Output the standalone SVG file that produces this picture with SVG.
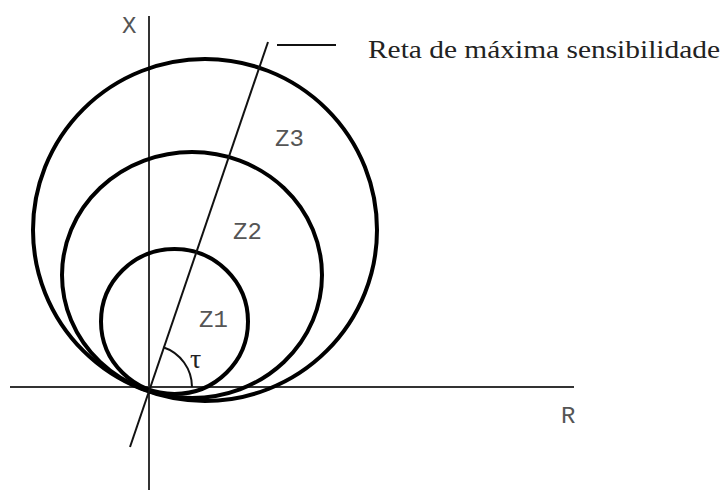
<svg xmlns="http://www.w3.org/2000/svg" width="725" height="490" viewBox="0 0 725 490">
<style>
.axis{stroke:#333;stroke-width:2;fill:none}
.zone{stroke:#000;stroke-width:4;fill:none}
.thin{stroke:#111;stroke-width:2;fill:none}
.mono{font-family:"Liberation Mono","Courier New",monospace;font-size:24px;fill:#555}
.serif{font-family:"Liberation Serif","Times New Roman",serif;fill:#222}
</style>
<rect width="725" height="490" fill="#fff"/>
<g id="axes">
<line class="axis" x1="149" y1="16" x2="149" y2="490"/>
<line class="axis" x1="10" y1="387" x2="574" y2="387"/>
<text class="mono" x="122" y="33">X</text>
<text class="mono" x="561" y="423">R</text>
</g>
<g id="z3">
<ellipse class="zone" cx="205" cy="230" rx="172" ry="171"/>
<text class="mono" x="275" y="146">Z3</text>
</g>
<g id="z2">
<ellipse class="zone" cx="192" cy="275" rx="130" ry="123"/>
<text class="mono" x="233" y="239">Z2</text>
</g>
<g id="z1">
<ellipse class="zone" cx="174.5" cy="321.5" rx="73.5" ry="72.5"/>
<text class="mono" x="199" y="327">Z1</text>
</g>
<g id="connectors">
<line class="thin" x1="130" y1="447" x2="268" y2="42"/>
<line class="thin" x1="277" y1="45" x2="336" y2="45"/>
<path class="thin" d="M163.3,347.2 A42,42 0 0 1 192,387"/>
</g>
<g id="labels">
<text class="serif" x="190" y="368" font-size="28">τ</text>
<text class="serif" x="368" y="58" font-size="25" textLength="352" lengthAdjust="spacingAndGlyphs">Reta de máxima sensibilidade</text>
</g>
</svg>
